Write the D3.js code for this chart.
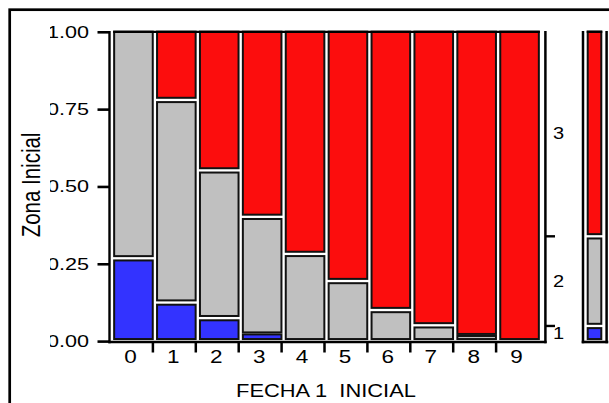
<!DOCTYPE html>
<html>
<head>
<meta charset="utf-8">
<script src="https://cdn.jsdelivr.net/npm/d3@7/dist/d3.min.js"></script>
<style>
  body { margin: 0; background: #fff; }
  text { font-family: "Liberation Sans", Arial, sans-serif; fill: #000; }
</style>
</head>
<body>
<svg id="chart" width="609" height="403"></svg>
<script>
// Mosaic of Zona Inicial by FECHA 1 INICIAL (proportions within each column)
const fechas = ["0", "1", "2", "3", "4", "5", "6", "7", "8", "9"];
const colWeight = [1, 1, 1, 1, 1, 1, 1, 1, 1, 1];
const zona1 = [0.266, 0.124, 0.074, 0.025, 0, 0, 0, 0, 0, 0];
const zona2 = [0.734, 0.650, 0.474, 0.374, 0.280, 0.193, 0.100, 0.051, 0.020, 0];
const zona3 = [0, 0.226, 0.452, 0.601, 0.720, 0.807, 0.900, 0.949, 0.980, 1];
const zonas = ["1", "2", "3"];
const zonaColors = ["#3333ff", "#c0c0c0", "#fc0d0d"];
const yTicks = [0, 0.25, 0.5, 0.75, 1];

const svg = d3.select("#chart");
const levels = [zona1, zona2, zona3];
const total = d3.sum(colWeight);

const x = d3.scaleLinear().domain([0, total]).range([112, 541]);
const y = d3.scaleLinear().domain([0, 1]).range([341.2, 29.5]);
const yAxisScale = d3.scaleLinear().domain([0, 1]).range([341.6, 32.3]);

const gap = 2.3, sw = 2, smallPx = 10;
const stretch = "scale(1.25,1)";

// outer panel frame
svg.append("rect").attr("x", 9.7).attr("y", 9.7).attr("width", 700).attr("height", 500)
  .attr("fill", "none").attr("stroke", "#000").attr("stroke-width", 2.7);

// stack a set of fractions into cells with white separators
function stackCells(fracs) {
  const cells = [];
  let lo = 0;
  fracs.forEach((f, k) => {
    if (f > 0) cells.push({ k, lo, hi: lo + f });
    lo += f;
  });
  const px = c => y(c.lo) - y(c.hi);
  cells.forEach((c, i) => {
    const prev = cells[i - 1], next = cells[i + 1];
    c.insetBottom = !prev ? gap / 2 : (px(prev) < smallPx || px(c) < smallPx ? 0 : gap / 2);
    c.insetTop = !next ? gap / 2 : (px(next) < smallPx || px(c) < smallPx ? 0 : gap / 2);
  });
  return cells;
}

function drawCells(g, cells, x0, x1) {
  g.selectAll("rect.cell").data(cells).join("rect")
    .attr("class", "cell")
    .attr("x", x0 + sw / 2)
    .attr("width", x1 - x0 - sw)
    .attr("y", c => y(c.hi) + c.insetTop + sw / 2)
    .attr("height", c => Math.max(0, (y(c.lo) - c.insetBottom) - (y(c.hi) + c.insetTop) - sw))
    .attr("fill", c => zonaColors[c.k])
    .attr("stroke", "#111")
    .attr("stroke-width", sw);
}

// columns of the mosaic
let start = 0;
fechas.forEach((f, j) => {
  const w = colWeight[j];
  const g = svg.append("g").attr("class", "col");
  drawCells(g, stackCells(levels.map(l => l[j])), x(start) + gap / 2, x(start + w) - gap / 2);
  start += w;
});

const line = (x1, y1, x2, y2, w) => svg.append("line")
  .attr("x1", x1).attr("y1", y1).attr("x2", x2).attr("y2", y2)
  .attr("stroke", "#000").attr("stroke-width", w);

// top edge across the cells
line(x(0) + gap / 2, y(1) + gap / 2 + 1.15, x(total) - gap / 2, y(1) + gap / 2 + 1.15, 2.3);

// plot frame: left, bottom, right
line(109.5, 31, 109.5, 343.3, 2.4);
line(108.3, 342, 546.6, 342, 2.6);
line(545.4, 31, 545.4, 343.3, 2.5);

// left axis ticks and labels (label column is clipped on its left side)
svg.append("clipPath").attr("id", "yclip")
  .append("rect").attr("x", 50).attr("y", 0).attr("width", 60).attr("height", 403);
yTicks.forEach(v => line(97.5, yAxisScale(v), 109.5, yAxisScale(v), 2.6));
svg.append("g").attr("clip-path", "url(#yclip)")
  .selectAll("text").data(yTicks).join("text")
  .attr("transform", v => `translate(89,${yAxisScale(v) + 5.3}) scale(1.35,1)`)
  .attr("text-anchor", "end")
  .style("font-size", "16px")
  .text(d3.format(".2f"));

svg.append("text")
  .attr("transform", `translate(40,185) ${stretch} rotate(-90)`)
  .attr("text-anchor", "middle")
  .style("font-size", "20.5px")
  .text("Zona Inicial");

// bottom axis: ticks between columns, labels at column centres
let cum = 0;
const bounds = [], centres = [];
colWeight.forEach((w, j) => {
  centres.push(x(cum + w / 2));
  cum += w;
  if (j < colWeight.length - 1) bounds.push(x(cum));
});
bounds.forEach(b => line(b - 2, 342, b - 2, 352.5, 2.5));
svg.selectAll("text.xlab").data(fechas).join("text")
  .attr("class", "xlab")
  .attr("transform", (d, j) => `translate(${centres[j] - 3},362.5) ${stretch}`)
  .attr("text-anchor", "middle")
  .style("font-size", "18px")
  .text(d => d);

svg.append("text")
  .attr("transform", `translate(326,396.5) ${stretch}`)
  .attr("text-anchor", "middle")
  .attr("xml:space", "preserve")
  .style("white-space", "pre")
  .style("font-size", "17.5px")
  .text("FECHA 1  INICIAL");

// marginal distribution of Zona Inicial
const marginal = levels.map(l => d3.sum(l, (v, j) => v * colWeight[j]) / total);
const mCells = stackCells(marginal);
drawCells(svg.append("g").attr("class", "marginal"), mCells, 586.7, 602.3);
line(586.7, y(1) + gap / 2 + 1.15, 602.3, y(1) + gap / 2 + 1.15, 2.3);
line(583, 31, 583, 343.3, 2.5);
line(606.6, 31, 606.6, 343.3, 2.5);
line(581.7, 342, 608.3, 342, 2.6);

// right axis: ticks at level boundaries, labels at level midpoints
mCells.slice(0, -1).forEach(c => line(545.4, y(c.hi), 555, y(c.hi), 2.4));
svg.selectAll("text.zlab").data(mCells).join("text")
  .attr("class", "zlab")
  .attr("transform", c => `translate(553,${y((c.lo + c.hi) / 2) + 5.7}) ${stretch}`)
  .style("font-size", "16px")
  .text(c => zonas[c.k]);
</script>
</body>
</html>
